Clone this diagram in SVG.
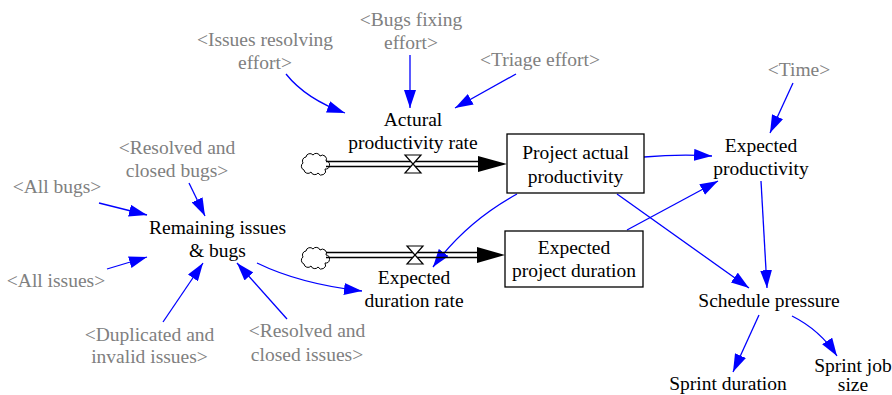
<svg xmlns="http://www.w3.org/2000/svg" width="892" height="395" viewBox="0 0 892 395" font-family="'Liberation Serif', 'Times New Roman', Times, serif">
  <style>
    text { font-size: 19.5px; text-anchor: middle; }
    .var { fill: #000000; }
    .shadow { fill: #808080; }
    .link { fill: none; stroke: #0000ff; stroke-width: 1.3; marker-end: url(#arrow); }
    .stock { fill: #ffffff; stroke: #000000; stroke-width: 1.3; }
    .pipe { stroke: #000000; stroke-width: 1.5; fill: none; }
    .valve { fill: #ffffff; stroke: #000000; stroke-width: 1.2; }
    .cloud { fill: #ffffff; stroke: #000000; stroke-width: 1; }
  </style>
  <defs>
    <marker id="arrow" viewBox="0 0 18 12" refX="18" refY="6" markerWidth="18" markerHeight="12" markerUnits="userSpaceOnUse" orient="auto">
      <path d="M0,0 L18,6 L0,12 z" fill="#0000ff"/>
    </marker>
    <path id="cloudShape" class="cloud" d="M4,3 a4,4 0 0 1 7,-2 a4,4 0 0 1 7,1 a4,4 0 0 1 6,5 a4,4 0 0 1 -1,8 a4,4 0 0 1 -7,4 a4,4 0 0 1 -7,-1 a4,4 0 0 1 -7,-2 a4,4 0 0 1 -1,-7 a4,4 0 0 1 3,-6 z"/>
  </defs>

  <!-- connectors -->
  <g id="connectors">
    <path class="link" d="M286,74 Q306,99 345,113"/>
    <path class="link" d="M410,55 L410,108"/>
    <path class="link" d="M516,74 L455,108"/>
    <path class="link" d="M189,183 L205,216"/>
    <path class="link" d="M99,203 L147,215"/>
    <path class="link" d="M107,269 L147,257"/>
    <path class="link" d="M163,322 L203,263"/>
    <path class="link" d="M287,319 L237,263"/>
    <path class="link" d="M257,263 Q300,284 362,291"/>
    <path class="link" d="M517,194 Q466,222 433,267"/>
    <path class="link" d="M617,194 L749,288"/>
    <path class="link" d="M627,230 L718,181"/>
    <path class="link" d="M644,157 Q680,154 712,156"/>
    <path class="link" d="M793,83 L770,133"/>
    <path class="link" d="M761,181 L767,288"/>
    <path class="link" d="M759,315 L733,372"/>
    <path class="link" d="M792,316 Q820,330 837,356"/>
  </g>

  <!-- flows into the stocks -->
  <g id="flow-actual">
    <use href="#cloudShape" x="302" y="154"/>
    <line class="pipe" x1="326" y1="161.5" x2="482" y2="161.5"/>
    <line class="pipe" x1="326" y1="166.5" x2="482" y2="166.5"/>
    <polygon points="478,156 507,164 478,172" fill="#000000"/>
    <polygon class="valve" points="405,155 421,155 413,164 421,173 405,173 413,164"/>
  </g>
  <g id="flow-duration">
    <use href="#cloudShape" x="302" y="248"/>
    <line class="pipe" x1="326" y1="252.5" x2="480" y2="252.5"/>
    <line class="pipe" x1="326" y1="257.5" x2="480" y2="257.5"/>
    <polygon points="477,247 505,255 477,263" fill="#000000"/>
    <polygon class="valve" points="407,246 423,246 415,255 423,264 407,264 415,255"/>
  </g>

  <!-- variables -->
  <g id="issues-resolving-effort">
    <text class="shadow" x="265" y="46">&lt;Issues resolving</text>
    <text class="shadow" x="265" y="69">effort&gt;</text>
  </g>
  <g id="bugs-fixing-effort">
    <text class="shadow" x="411" y="26">&lt;Bugs fixing</text>
    <text class="shadow" x="411" y="49">effort&gt;</text>
  </g>
  <g id="triage-effort">
    <text class="shadow" x="540" y="66">&lt;Triage effort&gt;</text>
  </g>
  <g id="actural-productivity-rate">
    <text class="var" x="413" y="126">Actural</text>
    <text class="var" x="413" y="149">productivity rate</text>
  </g>
  <g id="project-actual-productivity">
    <rect class="stock" x="507" y="134" width="137" height="59"/>
    <text class="var" x="575.5" y="159">Project actual</text>
    <text class="var" x="575.5" y="183">productivity</text>
  </g>
  <g id="expected-project-duration">
    <rect class="stock" x="505" y="231" width="138" height="56"/>
    <text class="var" x="574" y="254">Expected</text>
    <text class="var" x="574" y="277">project duration</text>
  </g>
  <g id="expected-duration-rate">
    <text class="var" x="414" y="284">Expected</text>
    <text class="var" x="414" y="307">duration rate</text>
  </g>
  <g id="resolved-closed-bugs">
    <text class="shadow" x="177" y="154">&lt;Resolved and</text>
    <text class="shadow" x="177" y="177">closed bugs&gt;</text>
  </g>
  <g id="all-bugs">
    <text class="shadow" x="57" y="193">&lt;All bugs&gt;</text>
  </g>
  <g id="remaining-issues-bugs">
    <text class="var" x="217.5" y="234">Remaining issues</text>
    <text class="var" x="217.5" y="257">&amp; bugs</text>
  </g>
  <g id="all-issues">
    <text class="shadow" x="56" y="287">&lt;All issues&gt;</text>
  </g>
  <g id="duplicated-invalid-issues">
    <text class="shadow" x="149.5" y="341">&lt;Duplicated and</text>
    <text class="shadow" x="149.5" y="363">invalid issues&gt;</text>
  </g>
  <g id="resolved-closed-issues">
    <text class="shadow" x="307" y="337">&lt;Resolved and</text>
    <text class="shadow" x="307" y="361">closed issues&gt;</text>
  </g>
  <g id="time">
    <text class="shadow" x="799" y="76">&lt;Time&gt;</text>
  </g>
  <g id="expected-productivity">
    <text class="var" x="761" y="152">Expected</text>
    <text class="var" x="761" y="175">productivity</text>
  </g>
  <g id="schedule-pressure">
    <text class="var" x="769" y="307">Schedule pressure</text>
  </g>
  <g id="sprint-duration">
    <text class="var" x="728" y="390">Sprint duration</text>
  </g>
  <g id="sprint-job-size">
    <text class="var" x="853" y="372">Sprint job</text>
    <text class="var" x="853" y="391">size</text>
  </g>
</svg>
